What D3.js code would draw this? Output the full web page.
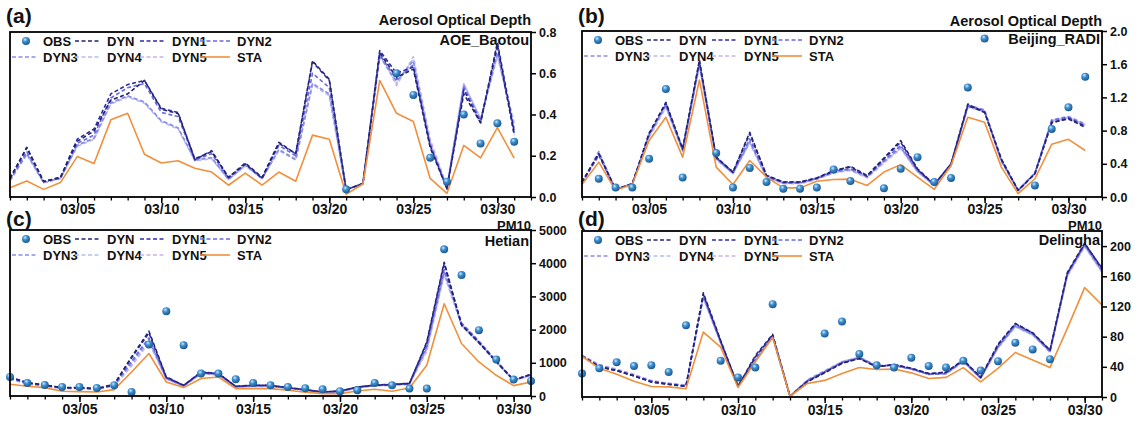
<!DOCTYPE html>
<html><head><meta charset="utf-8">
<script src="https://cdn.jsdelivr.net/npm/d3@7"></script>
<style>
html,body{margin:0;padding:0;background:#fff;}
svg{display:block;font-family:"Liberation Sans",Arial,sans-serif;font-weight:bold;}
</style></head><body>
<svg id="chart" width="1140" height="421"></svg>
<script>
// ---------- categories ----------
const days = ["03/01","03/02","03/03","03/04","03/05","03/06","03/07","03/08","03/09","03/10",
  "03/11","03/12","03/13","03/14","03/15","03/16","03/17","03/18","03/19","03/20",
  "03/21","03/22","03/23","03/24","03/25","03/26","03/27","03/28","03/29","03/30","03/31"];
const xTickLabels = ["03/05","03/10","03/15","03/20","03/25","03/30"];
const seriesNames = ["OBS","DYN","DYN1","DYN2","DYN3","DYN4","DYN5","STA"];

// ---------- (a) AOE_Baotou AOD ----------
const aOBS = [null,null,null,null,null,null,null,null,null,null,null,null,null,null,null,null,null,null,null,null,0.037,null,null,0.60,0.495,0.19,0.074,0.40,0.26,0.357,0.268];
const aDYN  = [0.09,0.24,0.075,0.095,0.27,0.32,0.47,0.50,0.565,0.425,0.405,0.185,0.22,0.095,0.165,0.095,0.265,0.21,0.66,0.57,0.035,0.065,0.70,0.58,0.62,0.24,0.04,0.50,0.36,0.74,0.30];
const aDYN1 = [0.09,0.24,0.075,0.095,0.28,0.33,0.50,0.545,0.565,0.43,0.41,0.18,0.225,0.095,0.16,0.09,0.26,0.21,0.655,0.565,0.035,0.065,0.71,0.60,0.63,0.25,0.04,0.52,0.36,0.75,0.32];
const aDYN2 = [0.085,0.22,0.075,0.09,0.26,0.30,0.48,0.53,0.55,0.41,0.39,0.18,0.21,0.09,0.16,0.09,0.25,0.20,0.60,0.53,0.035,0.065,0.69,0.57,0.64,0.25,0.04,0.53,0.37,0.72,0.31];
const aDYN3 = [0.08,0.21,0.07,0.09,0.25,0.285,0.455,0.49,0.46,0.37,0.335,0.18,0.19,0.085,0.155,0.09,0.23,0.18,0.55,0.50,0.035,0.065,0.68,0.56,0.66,0.26,0.045,0.54,0.37,0.70,0.33];
const aDYN4 = [0.08,0.205,0.07,0.09,0.245,0.28,0.45,0.485,0.455,0.365,0.33,0.175,0.185,0.085,0.15,0.09,0.225,0.18,0.545,0.49,0.035,0.065,0.69,0.55,0.67,0.27,0.045,0.55,0.38,0.69,0.35];
const aDYN5 = [0.08,0.21,0.07,0.09,0.25,0.285,0.46,0.49,0.46,0.37,0.335,0.18,0.19,0.085,0.155,0.09,0.23,0.185,0.55,0.495,0.035,0.065,0.70,0.54,0.68,0.28,0.05,0.55,0.38,0.68,0.36];
const aSTA  = [0.045,0.078,0.037,0.07,0.196,0.162,0.374,0.406,0.207,0.165,0.176,0.139,0.121,0.057,0.116,0.058,0.121,0.076,0.30,0.28,0.013,0.063,0.565,0.406,0.366,0.09,0.018,0.25,0.19,0.336,0.188];

// ---------- (b) Beijing_RADI AOD ----------
const bOBS = [null,0.22,0.113,0.113,0.46,1.30,0.234,null,0.53,0.113,0.35,0.18,0.10,0.10,0.113,0.33,0.193,null,0.105,0.34,0.48,0.18,0.23,1.32,1.91,null,null,0.14,0.82,1.08,1.45];
const bDYN  = [0.18,0.52,0.09,0.16,0.76,1.14,0.58,1.65,0.48,0.30,0.78,0.26,0.18,0.18,0.23,0.31,0.37,0.26,0.47,0.68,0.34,0.15,0.40,1.12,1.02,0.46,0.08,0.28,0.90,0.94,0.84];
const bDYN1 = [0.18,0.52,0.09,0.16,0.77,1.13,0.58,1.63,0.48,0.30,0.76,0.26,0.18,0.18,0.23,0.32,0.36,0.25,0.46,0.66,0.33,0.15,0.40,1.10,1.02,0.45,0.08,0.28,0.89,0.95,0.85];
const bDYN2 = [0.17,0.50,0.09,0.16,0.75,1.12,0.57,1.62,0.47,0.29,0.70,0.25,0.17,0.17,0.22,0.31,0.34,0.25,0.44,0.62,0.32,0.15,0.39,1.10,1.04,0.44,0.08,0.28,0.92,0.96,0.86];
const bDYN3 = [0.17,0.55,0.09,0.16,0.74,1.10,0.56,1.60,0.46,0.29,0.67,0.24,0.17,0.17,0.22,0.30,0.33,0.24,0.43,0.60,0.31,0.14,0.38,1.11,1.05,0.44,0.08,0.29,0.93,0.97,0.88];
const bDYN4 = [0.17,0.54,0.09,0.16,0.73,1.09,0.56,1.59,0.46,0.28,0.66,0.24,0.17,0.17,0.22,0.29,0.33,0.24,0.42,0.59,0.31,0.14,0.38,1.09,1.04,0.43,0.08,0.29,0.92,0.96,0.87];
const bDYN5 = [0.16,0.53,0.09,0.16,0.72,1.08,0.55,1.58,0.45,0.28,0.65,0.23,0.16,0.16,0.21,0.29,0.32,0.23,0.41,0.58,0.30,0.14,0.37,1.08,1.03,0.42,0.08,0.29,0.91,0.95,0.86];
const bSTA  = [0.15,0.42,0.08,0.15,0.68,0.96,0.48,1.41,0.36,0.15,0.44,0.24,0.11,0.11,0.19,0.21,0.215,0.14,0.30,0.39,0.24,0.093,0.38,0.96,0.90,0.36,0.04,0.22,0.635,0.695,0.56];

// ---------- (c) Hetian PM10 ----------
const cOBS = [573,393,332,272,272,241,322,121,1551,2555,1530,676,676,504,393,322,272,232,202,142,172,393,322,223,223,4417,3641,1982,1098,495,453];
const cDYN  = [573,404,332,253,253,223,353,1177,1952,573,322,724,676,293,322,322,253,193,121,151,272,322,342,374,1630,4030,2130,1600,1030,474,655];
const cDYN1 = [560,400,330,250,250,220,350,1150,1900,560,320,710,680,290,320,320,250,190,120,150,270,330,350,380,1600,3990,2150,1620,1040,480,650];
const cDYN2 = [540,390,320,240,240,210,330,1050,1750,540,310,700,660,280,310,310,240,180,110,140,260,330,350,380,1500,3800,2200,1650,1060,490,640];
const cDYN3 = [530,380,310,240,240,210,320,1000,1700,530,300,690,650,280,300,300,240,180,110,140,250,320,340,370,1450,3750,2180,1640,1050,480,630];
const cDYN4 = [520,370,300,230,230,200,310,950,1650,520,300,680,640,270,290,290,230,170,100,130,250,310,330,360,1400,3700,2150,1620,1040,470,620];
const cDYN5 = [510,360,300,230,230,200,300,900,1600,510,290,670,630,270,290,290,230,170,100,130,240,300,320,350,1350,3650,2120,1600,1030,460,610];
const cSTA  = [353,293,253,142,132,121,193,724,1279,422,253,525,573,223,223,223,172,112,72,72,151,202,142,241,926,2780,1580,1026,624,313,422];

// ---------- (d) Delingha PM10 ----------
const dOBS = [31,38,46,41,42,33,95,null,48,26,39,123,null,null,84,100,57,42,39,52,41,39,48,35,47.5,72,63,50,null,null,null];
const dDYN  = [54,40,35,28,20,16.6,14,138,75,14,53,82,1,20,32,44.5,51,40,43,38,31,32.5,49,26,69,97.5,85,62,165,204,170];
const dDYN1 = [54,40,35,28,20,17,14,136,74,14,55,83,1,21,33,45,51,40,43,38,31,33,49,26,70,97,85,62,164,203,171];
const dDYN2 = [55,41,35,28,21,17,15,134,73,15,50,80,1,21,33,46,52,41,42,37,30,31,48,25,67,95,84,61,163,202,168];
const dDYN3 = [55,42,36,29,21,18,15,133,72,15,49,80,1,22,34,46,52,41,42,37,30,31,47,25,66,94,83,60,162,201,167];
const dDYN4 = [55,42,36,29,21,18,15,132,72,15,48,79,1,22,34,47,53,41,42,37,30,31,47,25,65,93,82,60,161,200,166];
const dDYN5 = [55,43,37,30,22,18,16,131,71,16,48,79,1,23,35,47,53,42,42,37,30,31,47,25,65,93,82,59,160,199,165];
const dSTA  = [54,38,30,21,14,13.4,11,86,66,12.6,46.6,79,1,18,22,31,39,36.5,37,32,24.5,26,39,20,38,59,49,39,91,145,122];

// ---------- y tick labels ----------
const aTicks = [0,0.2,0.4,0.6,0.8];
const bTicks = [0,0.4,0.8,1.2,1.6,2.0];
const cTicks = [0,1000,2000,3000,4000,5000];
const dTicks = [0,40,80,120,160,200];

const colors = {DYN:"#24246f",DYN1:"#2c2caa",DYN2:"#6a6ade",DYN3:"#8c8ce6",DYN4:"#b2bff0",DYN5:"#c9b3ea",STA:"#f0903c"};

const panels = [
  {label:"(a)", title:"Aerosol Optical Depth", site:"AOE_Baotou", box:[10,32,531,197], xEnd:"04/01", yMax:0.8, ticks:aTicks, fmt:".1f",
   labelY:23, titleY:25, titleSize:14.5, siteY:45, pad:1, data:{OBS:aOBS,DYN:aDYN,DYN1:aDYN1,DYN2:aDYN2,DYN3:aDYN3,DYN4:aDYN4,DYN5:aDYN5,STA:aSTA}},
  {label:"(b)", title:"Aerosol Optical Depth", site:"Beijing_RADI", box:[582,31,1102,197], xEnd:"04/01", yMax:2.0, ticks:bTicks, fmt:".1f",
   labelY:23, titleY:26, titleSize:14.5, siteY:44, pad:1, data:{OBS:bOBS,DYN:bDYN,DYN1:bDYN1,DYN2:bDYN2,DYN3:bDYN3,DYN4:bDYN4,DYN5:bDYN5,STA:bSTA}},
  {label:"(c)", title:"PM10", site:"Hetian", box:[10,230,531,396], xEnd:"03/31", yMax:5000, ticks:cTicks, fmt:"d",
   labelY:226, titleY:229.5, titleSize:13, siteY:246, pad:2, data:{OBS:cOBS,DYN:cDYN,DYN1:cDYN1,DYN2:cDYN2,DYN3:cDYN3,DYN4:cDYN4,DYN5:cDYN5,STA:cSTA}},
  {label:"(d)", title:"PM10", site:"Delingha", box:[582,231,1102,397], xEnd:"03/31", yMax:220, ticks:dTicks, fmt:"d",
   labelY:226, titleY:229.5, titleSize:13, siteY:245, pad:2, data:{OBS:dOBS,DYN:dDYN,DYN1:dDYN1,DYN2:dDYN2,DYN3:dDYN3,DYN4:dDYN4,DYN5:dDYN5,STA:dSTA}}
];

const parse = d3.utcParse("%m/%d");
const svg = d3.select("#chart");
svg.append("rect").attr("width",1140).attr("height",421).attr("fill","#fff");
const defs = svg.append("defs");
const grad = defs.append("radialGradient").attr("id","sphere").attr("cx","38%").attr("cy","32%").attr("r","68%");
grad.append("stop").attr("offset","0%").attr("stop-color","#cfeaff");
grad.append("stop").attr("offset","40%").attr("stop-color","#3f8fcf");
grad.append("stop").attr("offset","100%").attr("stop-color","#1a5890");

function sphere(g, cx, cy, r){
  g.append("circle").attr("cx",cx).attr("cy",cy).attr("r",r).attr("fill","url(#sphere)");
}

panels.forEach(p => {
  const [x0,y0,x1,y1] = p.box;
  const x = d3.scaleUtc().domain([parse("03/01"), parse(p.xEnd)]).range([x0,x1]);
  const y = d3.scaleLinear().domain([0,p.yMax]).range([y1,y0]);
  const g = svg.append("g");

  // x axis minor ticks (every day)
  const minor = d3.utcDay.range(parse("03/01"), d3.utcDay.offset(parse(p.xEnd),1));
  const gxm = g.append("g").attr("transform",`translate(0,${y1})`)
    .call(d3.axisBottom(x).tickValues(minor).tickSize(3.5).tickSizeOuter(0).tickFormat(""));
  gxm.select(".domain").remove();
  gxm.selectAll("line").attr("stroke","#000").attr("stroke-width",1.3);
  // major ticks
  const gx = g.append("g").attr("transform",`translate(0,${y1})`)
    .call(d3.axisBottom(x).tickValues(xTickLabels.map(parse)).tickSize(6).tickSizeOuter(0).tickPadding(p.pad).tickFormat(d3.utcFormat("%m/%d")));
  gx.select(".domain").remove();
  gx.selectAll("line").attr("stroke","#000").attr("stroke-width",1.5);
  gx.selectAll("text").attr("font-size",14).attr("font-weight","bold").attr("fill","#111")
    .attr("font-family","'Liberation Sans',Arial,sans-serif");

  // right y axis
  const gy = g.append("g").attr("transform",`translate(${x1},0)`)
    .call(d3.axisRight(y).tickValues(p.ticks).tickSize(5).tickSizeOuter(0).tickPadding(3).tickFormat(d3.format(p.fmt)));
  gy.select(".domain").remove();
  gy.selectAll("line").attr("stroke","#000").attr("stroke-width",1.5);
  gy.selectAll("text").attr("font-size",12.5).attr("font-weight","bold").attr("fill","#111")
    .attr("font-family","'Liberation Sans',Arial,sans-serif");

  // lines
  const line = d3.line().defined(v => v != null).x((v,i) => x(parse(days[i]))).y(v => y(v));
  const order = ["DYN5","DYN4","DYN3","DYN2","DYN1","DYN","STA"];
  order.forEach(name => {
    g.append("path").datum(p.data[name]).attr("d",line).attr("fill","none")
      .attr("stroke",colors[name]).attr("stroke-width",1.6)
      .attr("stroke-dasharray", name === "STA" ? null : "4,2.5")
      .attr("stroke-linejoin","round");
  });
  // OBS points
  p.data.OBS.forEach((v,i) => { if (v != null) sphere(g, x(parse(days[i])), y(v), 4); });

  // frame
  g.append("rect").attr("x",x0).attr("y",y0).attr("width",x1-x0).attr("height",y1-y0)
    .attr("fill","none").attr("stroke","#000").attr("stroke-width",1.8);

  // texts
  g.append("text").attr("x",x1).attr("y",p.titleY).attr("text-anchor","end").attr("font-size",p.titleSize).attr("fill","#111").text(p.title);
  g.append("text").attr("x",x1-2).attr("y",p.siteY).attr("text-anchor","end").attr("font-size",14.5).attr("fill","#111").text(p.site);
  svg.append("text").attr("x",x0-4).attr("y",p.labelY).attr("font-size",21).attr("fill","#111").text(p.label);

  // legend
  const lg = g.append("g").attr("font-size",13).attr("fill","#111");
  const cols = [[16,33],[65,97],[130,162],[192,227]];
  const rows = [y0+9, y0+25];
  seriesNames.forEach((name,k) => {
    const r = Math.floor(k/4), c = k%4;
    const cy = rows[r];
    const [sx, tx] = cols[c];
    if (name === "OBS") {
      sphere(lg, x0+sx, cy, 4);
    } else {
      const ls = (r===1 && c===0) ? x0+2 : x0+sx-(c===3?2:0);
      const le = x0+tx-7;
      lg.append("line").attr("x1",ls).attr("x2",le).attr("y1",cy).attr("y2",cy)
        .attr("stroke",colors[name]).attr("stroke-width",1.6)
        .attr("stroke-dasharray", name === "STA" ? null : "4,2.5");
    }
    lg.append("text").attr("x",x0+tx).attr("y",cy+4.5).text(name);
  });
});
</script>
</body></html>
